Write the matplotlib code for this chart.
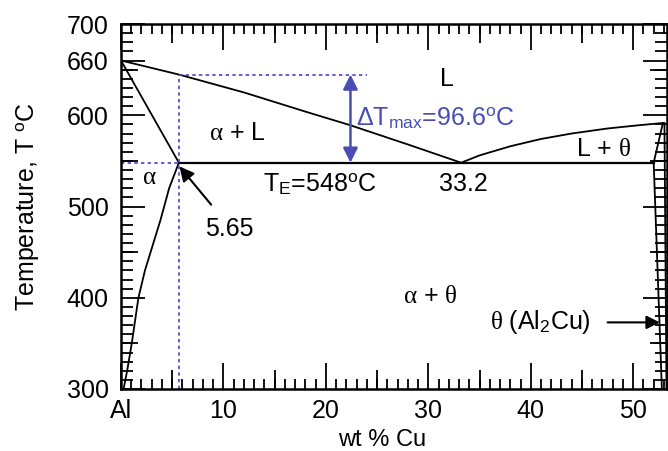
import matplotlib.pyplot as plt
from matplotlib.ticker import MultipleLocator, FixedLocator

plt.rcParams['font.family'] = ['Liberation Sans', 'DejaVu Sans']
plt.rcParams['mathtext.fontset'] = 'custom'
plt.rcParams['mathtext.rm'] = 'Liberation Sans'
plt.rcParams['mathtext.it'] = 'Liberation Serif'
plt.rcParams['mathtext.default'] = 'it'

# phase boundaries (wt % Cu, T in C)
liq_left_x = [0, 5.65, 12, 18, 22.4, 28, 33.2]
liq_left_t = [660, 644.6, 625, 604, 589, 568, 548]
liq_right_x = [33.2, 35, 38, 41, 44, 47.5, 50.5, 52.9]
liq_right_t = [548, 556, 566, 574, 580, 585.5, 589, 591.5]
solidus_x = [0, 5.65]
solidus_t = [660, 548]
solvus_x = [5.65, 4.7, 3.85, 2.34, 1.7, 1.05, 0.6, 0.25]
solvus_t = [548, 520, 485, 430, 400, 350, 320, 300]
eutectic_x = [5.65, 52.0]
eutectic_t = [548, 548]
theta_left_x = [52.9, 52.0, 52.8]
theta_left_t = [591.5, 548, 300]
theta_right_x = [53.05, 53.25]
theta_right_t = [591.5, 300]

c_eut = 5.65
t_eut = 548
c_eut_liq = 33.2
dT_x = 22.4
dT_top = 644.6
dash_top_end = 24

x_labels = ['Al', '10', '20', '30', '40', '50']
x_ticks = [0, 10, 20, 30, 40, 50]
y_ticks = [300, 400, 500, 600, 660, 700]

blue = '#4a4db3'
dots = '#4444cc'

fig = plt.figure(figsize=(6.68, 4.51), dpi=100)
ax = fig.add_axes([121 / 668, 1 - 389 / 451, 546 / 668, 365 / 451])

lw = 1.3
ax.plot(liq_left_x, liq_left_t, color='black', lw=lw)
ax.plot(liq_right_x, liq_right_t, color='black', lw=lw)
ax.plot(solidus_x, solidus_t, color='black', lw=lw)
ax.plot(solvus_x, solvus_t, color='black', lw=lw)
ax.plot(eutectic_x, eutectic_t, color='black', lw=1.6)
ax.plot(theta_left_x, theta_left_t, color='black', lw=lw)
ax.plot(theta_right_x, theta_right_t, color='black', lw=lw)

# guide lines
ax.plot([c_eut, c_eut], [300, dT_top], color=dots, lw=1.2, ls=(0, (2, 2)))
ax.plot([0, c_eut], [t_eut, t_eut], color=dots, lw=1.2, ls=(0, (2, 2)))
ax.plot([c_eut, dash_top_end], [dT_top, dT_top], color=dots, lw=1.2, ls=(0, (2, 2)))

ax.annotate('', xy=(dT_x, t_eut), xytext=(dT_x, dT_top),
            arrowprops=dict(arrowstyle='<|-|>', color=blue, lw=1.8,
                            mutation_scale=22, shrinkA=0, shrinkB=0))

fs = 18
ax.text(dT_x + 0.5, 597, r'$\Delta$T$_{\mathrm{max}}$=96.6$^{\mathrm{o}}$C',
        color=blue, fontsize=fs, ha='left', va='center')
ax.text(31.8, 640, 'L', fontsize=fs, ha='center', va='center')
ax.text(11.4, 581, r'$\alpha$ + L', fontsize=fs, ha='center', va='center')
ax.text(2.8, 532, r'$\alpha$', fontsize=fs, ha='center', va='center')
ax.text(19.4, 525, r'T$_{\mathrm{E}}$=548$^{\mathrm{o}}$C', fontsize=fs,
        ha='center', va='center')
ax.text(33.4, 525, '33.2', fontsize=fs, ha='center', va='center')
ax.text(10.6, 475, '5.65', fontsize=fs, ha='center', va='center')
ax.text(30.2, 402, r'$\alpha$ + $\theta$', fontsize=fs, ha='center', va='center')
ax.text(47.1, 563, r'L + $\theta$', fontsize=fs, ha='center', va='center')
ax.text(40.9, 373, r'$\theta$ (Al$_{\mathrm{2}}$Cu)', fontsize=fs,
        ha='center', va='center')

ax.annotate('', xy=(5.7, 544), xytext=(8.8, 502),
            arrowprops=dict(arrowstyle='-|>', color='black', lw=1.5,
                            mutation_scale=22, shrinkA=0, shrinkB=0))
ax.annotate('', xy=(52.6, 373), xytext=(47.5, 373),
            arrowprops=dict(arrowstyle='-|>', color='black', lw=1.5,
                            mutation_scale=20, shrinkA=0, shrinkB=0))

ax.set_xlim(0, 53.3)
ax.set_ylim(300, 700)

ax.xaxis.set_major_locator(FixedLocator(x_ticks))
ax.set_xticklabels(x_labels)
ax.xaxis.set_minor_locator(MultipleLocator(1))
ax.yaxis.set_major_locator(FixedLocator(y_ticks))
ax.set_yticklabels([str(v) for v in y_ticks])
ax.yaxis.set_minor_locator(MultipleLocator(10))

ax.tick_params(axis='x', which='major', direction='in', length=19, width=1.3,
               top=True, labelsize=fs, pad=7)
ax.tick_params(axis='x', which='minor', direction='in', length=7, width=1.3,
               top=True)
ax.tick_params(axis='y', which='major', direction='in', length=17, width=1.3,
               right=True, labelsize=fs, pad=9)
ax.tick_params(axis='y', which='minor', direction='in', length=8.5, width=1.3,
               right=True)

# medium ticks at the fives
for side in ['bottom', 'top']:
    sec = ax.secondary_xaxis(side)
    sec.set_xticks([5, 15, 25, 35, 45])
    sec.tick_params(direction='in', length=14, width=1.3, labelbottom=False,
                    labeltop=False)
    sec.spines[side].set_visible(False)
for side in ['left', 'right']:
    sec = ax.secondary_yaxis(side)
    sec.set_yticks([350, 450, 550, 650])
    sec.tick_params(direction='in', length=12, width=1.3, labelleft=False,
                    labelright=False)
    sec.spines[side].set_visible(False)

for s in ax.spines.values():
    s.set_linewidth(1.8)

ax.set_xlabel('wt % Cu', fontsize=17)
ax.xaxis.set_label_coords((382 - 121) / 546, -40 / 365)
ax.set_ylabel(r'Temperature, T $^{\mathrm{o}}$C', fontsize=fs)
ax.yaxis.set_label_coords(-(121 - 42) / 546, 0.5)

fig.savefig('out.png', dpi=100)
